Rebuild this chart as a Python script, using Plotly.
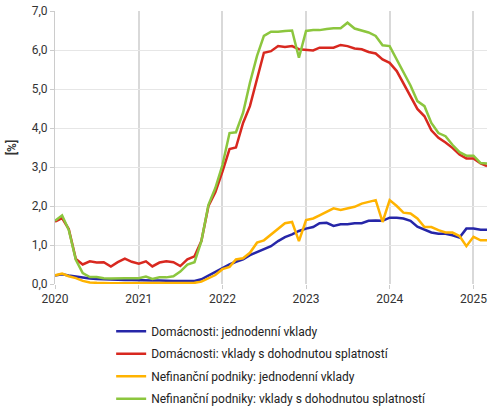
import pandas as pd
import plotly.graph_objects as go

# monthly observations, Jan 2020 - Mar 2025
months = pd.date_range("2020-01-01", periods=63, freq="MS")

hh_overnight = [
    0.22, 0.25, 0.22, 0.19, 0.16, 0.14, 0.13, 0.12, 0.11, 0.10, 0.10, 0.10,
    0.09, 0.09, 0.09, 0.09, 0.08, 0.08, 0.08, 0.08, 0.08, 0.12, 0.22, 0.32,
    0.42, 0.50, 0.57, 0.63, 0.74, 0.82, 0.89, 0.97, 1.10, 1.20, 1.27, 1.36,
    1.42, 1.46, 1.56, 1.57, 1.49, 1.53, 1.53, 1.56, 1.56, 1.62, 1.63, 1.62,
    1.70, 1.70, 1.68, 1.62, 1.47, 1.40, 1.32, 1.29, 1.29, 1.25, 1.19, 1.42,
    1.42, 1.39, 1.39,
]
hh_term = [
    1.60, 1.69, 1.41, 0.64, 0.50, 0.58, 0.55, 0.56, 0.45, 0.56, 0.65, 0.57,
    0.52, 0.58, 0.45, 0.55, 0.58, 0.56, 0.46, 0.63, 0.71, 1.10, 2.00, 2.35,
    2.88, 3.46, 3.50, 4.13, 4.56, 5.25, 5.93, 5.97, 6.10, 6.08, 6.10, 6.02,
    6.00, 5.99, 6.06, 6.06, 6.06, 6.13, 6.10, 6.04, 6.02, 5.95, 5.91, 5.76,
    5.67, 5.46, 5.16, 4.82, 4.49, 4.30, 3.94, 3.75, 3.63, 3.49, 3.32, 3.22,
    3.22, 3.09, 3.02,
]
nfc_overnight = [
    0.22, 0.27, 0.20, 0.15, 0.08, 0.04, 0.03, 0.02, 0.02, 0.02, 0.02, 0.02,
    0.02, 0.02, 0.02, 0.02, 0.02, 0.02, 0.02, 0.02, 0.03, 0.06, 0.15, 0.23,
    0.38, 0.44, 0.63, 0.66, 0.80, 1.06, 1.12, 1.27, 1.40, 1.56, 1.59, 1.10,
    1.64, 1.68, 1.76, 1.85, 1.94, 1.90, 1.93, 1.98, 2.06, 2.11, 2.15, 1.59,
    2.15, 2.00, 1.83, 1.81, 1.68, 1.46, 1.46, 1.38, 1.32, 1.32, 1.23, 0.97,
    1.21, 1.12, 1.12,
]
nfc_term = [
    1.62, 1.76, 1.39, 0.62, 0.28, 0.18, 0.18, 0.15, 0.14, 0.15, 0.15, 0.15,
    0.15, 0.19, 0.13, 0.17, 0.17, 0.20, 0.32, 0.50, 0.56, 1.10, 2.03, 2.46,
    3.05, 3.87, 3.89, 4.39, 5.16, 5.85, 6.36, 6.47, 6.47, 6.49, 6.50, 5.80,
    6.49, 6.51, 6.51, 6.54, 6.56, 6.56, 6.70, 6.55, 6.49, 6.45, 6.36, 6.12,
    6.10, 5.76, 5.42, 5.09, 4.69, 4.56, 4.13, 3.87, 3.79, 3.57, 3.38, 3.29,
    3.29, 3.10, 3.09,
]

series = [
    ("Domácnosti: jednodenní vklady", hh_overnight, "#2626a8"),
    ("Domácnosti: vklady s dohodnutou splatností", hh_term, "#d8281f"),
    ("Nefinanční podniky: jednodenní vklady", nfc_overnight, "#ffb300"),
    ("Nefinanční podniky: vklady s dohodnutou splatností", nfc_term, "#8cc63e"),
]

fig = go.Figure()
for name, vals, col in series:
    fig.add_trace(go.Scatter(x=months, y=vals, name=name, mode="lines",
                             legendgroup=name,
                             line=dict(color=col, width=2.5)))

fig.update_layout(
    width=490, height=410,
    margin=dict(l=55, r=3, t=11, b=126, autoexpand=False),
    paper_bgcolor="white", plot_bgcolor="white",
    font=dict(family="Roboto", size=12, color="#333333"),
    separators=",.",
    showlegend=True,
    legend=dict(orientation="v", x=0.13, xanchor="left", y=-0.12, yanchor="top",
                tracegroupgap=3.5, font=dict(size=12, color="#222222"),
                bgcolor="rgba(0,0,0,0)"),
)
fig.update_xaxes(
    range=["2020-01-01", "2025-03-01"],
    dtick="M12", tick0="2020-01-01", tickformat="%Y",
    showgrid=True, gridcolor="#d9d9d9", gridwidth=1.5,
    showline=False, ticks="outside", ticklen=4, tickcolor="#cccccc",
    zeroline=False, automargin=False, ticklabeloverflow="allow",
)
fig.update_yaxes(
    range=[0, 7], dtick=1, tickformat=".1f",
    showgrid=True, gridcolor="#e6e6e6",
    showline=True, linecolor="#cccccc",
    ticks="outside", ticklen=4, tickcolor="#cccccc",
    zeroline=False, automargin=False,
    title=dict(text="<b>[%]</b>", font=dict(size=12, color="#333333"), standoff=12),
)

# drop the default page margin so the 490x410 figure fills the window
fig.write_html("out.html", config={"displayModeBar": False},
               post_script="document.body.style.margin='0';")
